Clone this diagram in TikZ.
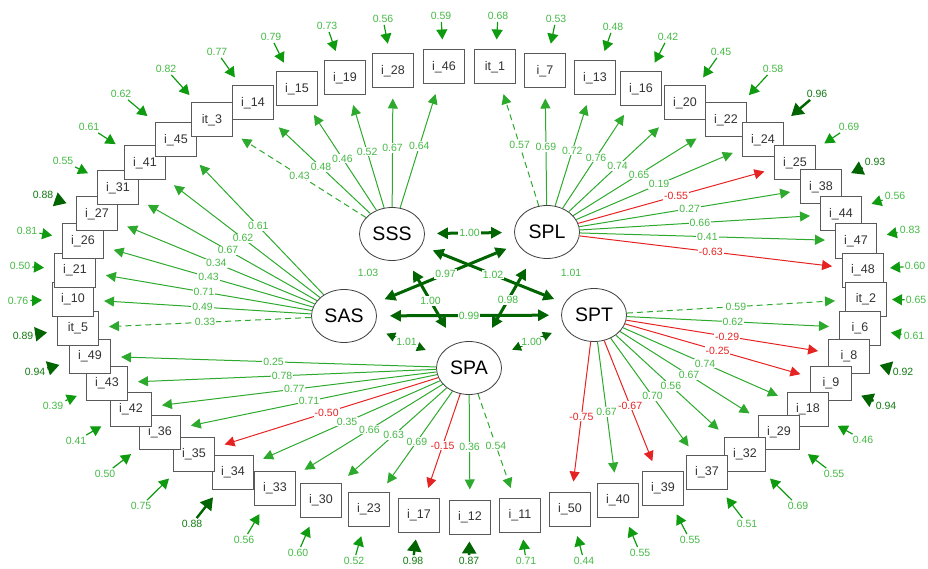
\documentclass[tikz,border=0pt]{standalone}
\usepackage{fontspec}
\setmainfont{Liberation Sans}
\usetikzlibrary{arrows.meta,shapes.geometric}
\definecolor{lgreen}{RGB}{45,170,45}
\definecolor{tgreen}{RGB}{70,185,70}
\definecolor{egreen}{RGB}{15,155,15}
\definecolor{dgreen}{RGB}{0,100,0}
\definecolor{lred}{RGB}{230,35,35}

\begin{document}
\begin{tikzpicture}[x=1pt,y=-1pt,
  item/.style={draw=black!65,line width=1pt,fill=white,minimum width=41pt,minimum height=34pt,inner sep=0pt,text=black!80,font=\fontsize{12.5}{12.5}\selectfont},
  lat/.style={draw=black!75,line width=0.8pt,ellipse,minimum width=65pt,minimum height=53pt,inner sep=0pt,font=\fontsize{19.5}{19.5}\selectfont},
  load/.style={draw=lgreen,line width=1pt,-{Triangle[length=10pt,width=10pt]},shorten >=10pt},
  nload/.style={load,draw=lred},
  fload/.style={load,dash pattern=on 6pt off 4pt},
  coef/.style={fill=white,inner sep=1pt,text=tgreen,font=\fontsize{10.5}{10.5}\selectfont},
  ncoef/.style={coef,text=lred},
  err/.style={draw=egreen,line width=1.2pt,-{Triangle[length=10pt,width=11pt]},shorten >=10pt},
  errhi/.style={draw=dgreen,line width=2.4pt,-{Triangle[length=12pt,width=14pt]},shorten >=10pt},
  elab/.style={inner sep=2pt,text=tgreen,font=\fontsize{10.5}{10.5}\selectfont},
  elabhi/.style={elab,text=dgreen!75!tgreen},
  cov/.style={draw=dgreen,line width=3pt,{Triangle[length=11pt,width=11pt]}-{Triangle[length=11pt,width=11pt]}},
  covthin/.style={draw=dgreen,line width=2pt,{Triangle[length=9pt,width=9pt]}-{Triangle[length=9pt,width=9pt]},shorten <=14pt,shorten >=15pt},
  clab/.style={coef}]
\useasboundingbox (0,0) rectangle (928,569);

% observed items, left side (bottom to top)
\node[item] (i34) at (233,472) {i\_34};
\node[item] (i35) at (194,454) {i\_35};
\node[item] (i36) at (160,432) {i\_36};
\node[item] (i42) at (131,409) {i\_42};
\node[item] (i43) at (107,383) {i\_43};
\node[item] (i49) at (90,356) {i\_49};
\node[item] (it5) at (78,328) {it\_5};
\node[item] (i10) at (73,299) {i\_10};
\node[item] (i21) at (75,270) {i\_21};
\node[item] (i26) at (83,241) {i\_26};
\node[item] (i27) at (97,214) {i\_27};
\node[item] (i31) at (118,188) {i\_31};
\node[item] (i41) at (145,163) {i\_41};
\node[item] (i45) at (176,140) {i\_45};
\node[item] (it3) at (212,120) {it\_3};
\node[item] (i14) at (253,103) {i\_14};
% top row
\node[item] (i15) at (297,89) {i\_15};
\node[item] (i19) at (345,78) {i\_19};
\node[item] (i28) at (393,71) {i\_28};
\node[item] (i46) at (444,67) {i\_46};
\node[item] (it1) at (495,67) {it\_1};
\node[item] (i7) at (545,71) {i\_7};
\node[item] (i13) at (595,78) {i\_13};
\node[item] (i16) at (641,89) {i\_16};
% right side (top to bottom)
\node[item] (i20) at (685,103) {i\_20};
\node[item] (i22) at (726,120) {i\_22};
\node[item] (i24) at (763,140) {i\_24};
\node[item] (i25) at (795,163) {i\_25};
\node[item] (i38) at (821,187) {i\_38};
\node[item] (i44) at (841,214) {i\_44};
\node[item] (i47) at (856,241) {i\_47};
\node[item] (i48) at (863,270) {i\_48};
\node[item] (it2) at (866,299) {it\_2};
\node[item] (i6) at (860,328) {i\_6};
\node[item] (i8) at (849,356) {i\_8};
\node[item] (i9) at (831,383) {i\_9};
\node[item] (i18) at (808,409) {i\_18};
\node[item] (i29) at (779,432) {i\_29};
\node[item] (i32) at (745,454) {i\_32};
\node[item] (i37) at (707,472) {i\_37};
% bottom row
\node[item] (i39) at (663,488) {i\_39};
\node[item] (i40) at (618,500) {i\_40};
\node[item] (i50) at (570,509) {i\_50};
\node[item] (i11) at (520,515) {i\_11};
\node[item] (i12) at (470,517) {i\_12};
\node[item] (i17) at (419,515) {i\_17};
\node[item] (i23) at (369,509) {i\_23};
\node[item] (i30) at (321,500) {i\_30};
\node[item] (i33) at (275,488) {i\_33};

% latent factors
\node[lat] (SSS) at (392,234) {SSS};
\node[lat] (SPL) at (547,232) {SPL};
\node[lat] (SAS) at (344,316) {SAS};
\node[lat] (SPT) at (594,315) {SPT};
\node[lat] (SPA) at (469,368) {SPA};

% SSS loadings
\draw[fload] (SSS) -- node[coef] {0.43} (it3);
\draw[load] (SSS) -- node[coef] {0.48} (i14);
\draw[load] (SSS) -- node[coef] {0.46} (i15);
\draw[load] (SSS) -- node[coef] {0.52} (i19);
\draw[load] (SSS) -- node[coef] {0.67} (i28);
\draw[load] (SSS) -- node[coef] {0.64} (i46);
% SAS loadings
\draw[load] (SAS) -- node[coef] {0.61} (i45);
\draw[load] (SAS) -- node[coef] {0.62} (i41);
\draw[load] (SAS) -- node[coef] {0.67} (i31);
\draw[load] (SAS) -- node[coef] {0.34} (i27);
\draw[load] (SAS) -- node[coef] {0.43} (i26);
\draw[load] (SAS) -- node[coef] {0.71} (i21);
\draw[load] (SAS) -- node[coef] {0.49} (i10);
\draw[fload] (SAS) -- node[coef] {0.33} (it5);
% SPA loadings
\draw[load] (SPA) -- node[coef] {0.25} (i49);
\draw[load] (SPA) -- node[coef] {0.78} (i43);
\draw[load] (SPA) -- node[coef] {0.77} (i42);
\draw[load] (SPA) -- node[coef] {0.71} (i36);
\draw[nload] (SPA) -- node[ncoef] {-0.50} (i35);
\draw[load] (SPA) -- node[coef] {0.35} (i34);
\draw[load] (SPA) -- node[coef] {0.66} (i33);
\draw[load] (SPA) -- node[coef] {0.63} (i30);
\draw[load] (SPA) -- node[coef] {0.69} (i23);
\draw[nload] (SPA) -- node[ncoef] {-0.15} (i17);
\draw[load] (SPA) -- node[coef] {0.36} (i12);
\draw[fload] (SPA) -- node[coef] {0.54} (i11);
% SPT loadings
\draw[nload] (SPT) -- node[ncoef] {-0.75} (i50);
\draw[load] (SPT) -- node[coef] {0.67} (i40);
\draw[nload] (SPT) -- node[ncoef] {-0.67} (i39);
\draw[load] (SPT) -- node[coef] {0.70} (i37);
\draw[load] (SPT) -- node[coef] {0.56} (i32);
\draw[load] (SPT) -- node[coef] {0.67} (i29);
\draw[load] (SPT) -- node[coef] {0.74} (i18);
\draw[nload] (SPT) -- node[ncoef] {-0.25} (i9);
\draw[nload] (SPT) -- node[ncoef] {-0.29} (i8);
\draw[load] (SPT) -- node[coef] {0.62} (i6);
\draw[fload] (SPT) -- node[coef] {0.59} (it2);
% SPL loadings
\draw[fload] (SPL) -- node[coef] {0.57} (it1);
\draw[load] (SPL) -- node[coef] {0.69} (i7);
\draw[load] (SPL) -- node[coef] {0.72} (i13);
\draw[load] (SPL) -- node[coef] {0.76} (i16);
\draw[load] (SPL) -- node[coef] {0.74} (i20);
\draw[load] (SPL) -- node[coef] {0.65} (i22);
\draw[load] (SPL) -- node[coef] {0.19} (i24);
\draw[nload] (SPL) -- node[ncoef] {-0.55} (i25);
\draw[load] (SPL) -- node[coef] {0.27} (i38);
\draw[load] (SPL) -- node[coef] {0.66} (i44);
\draw[load] (SPL) -- node[coef] {0.41} (i47);
\draw[nload] (SPL) -- node[ncoef] {-0.63} (i48);

% factor covariances
\draw[cov,shorten <=12pt,shorten >=12pt] (SSS) -- node[clab] {1.00} (SPL);
\draw[cov,shorten <=12pt,shorten >=11pt] (SSS) -- node[clab] {1.02} (SPT);
\draw[cov,shorten <=12pt,shorten >=12pt] (SPL) -- node[clab] {0.97} (SAS);
\draw[cov,shorten <=14pt,shorten >=18pt] (SSS) -- node[clab] {1.00} (SPA);
\draw[cov,shorten <=14pt,shorten >=18pt] (SPL) -- node[clab] {0.98} (SPA);
\draw[cov,shorten <=13pt,shorten >=12pt] (SAS) -- node[clab] {0.99} (SPT);
\draw[covthin] (SAS) -- node[clab] {1.01} (SPA);
\draw[covthin] (SPT) -- node[clab] {1.00} (SPA);
\node[clab,fill=none] (v1) at (368,273) {1.03};
\node[clab,fill=none] (v2) at (571,273) {1.01};

% residuals
\node[elab] (e14) at (217,52) {0.77};
\draw[err] (e14) -- (i14);
\node[elab] (et3) at (166,69) {0.82};
\draw[err] (et3) -- (it3);
\node[elab] (e45) at (121,94) {0.62};
\draw[err] (e45) -- (i45);
\node[elab] (e41) at (89,127) {0.61};
\draw[err] (e41) -- (i41);
\node[elab] (e31) at (63,161) {0.55};
\draw[err] (e31) -- (i31);
\node[elabhi] (e27) at (43,195) {0.88};
\draw[errhi] (e27) -- (i27);
\node[elab] (e26) at (27,231) {0.81};
\draw[err] (e26) -- (i26);
\node[elab] (e21) at (20,266) {0.50};
\draw[err] (e21) -- (i21);
\node[elab] (e10) at (18,301) {0.76};
\draw[err] (e10) -- (i10);
\node[elabhi] (et5) at (23,336) {0.89};
\draw[errhi] (et5) -- (it5);
\node[elabhi] (e49) at (35,372) {0.94};
\draw[errhi] (e49) -- (i49);
\node[elab] (e43) at (53,406) {0.39};
\draw[err] (e43) -- (i43);
\node[elab] (e42) at (76,441) {0.41};
\draw[err] (e42) -- (i42);
\node[elab] (e36) at (105,474) {0.50};
\draw[err] (e36) -- (i36);
\node[elab] (e35) at (141,506) {0.75};
\draw[err] (e35) -- (i35);
\node[elabhi] (e34) at (192,524) {0.88};
\draw[errhi] (e34) -- (i34);
\node[elab] (e33) at (244,540) {0.56};
\draw[err] (e33) -- (i33);
\node[elab] (e30) at (298,553) {0.60};
\draw[err] (e30) -- (i30);
\node[elab] (e23) at (354,561) {0.52};
\draw[err] (e23) -- (i23);
\node[elabhi] (e17) at (413,561) {0.98};
\draw[errhi,shorten >=7pt] (e17) -- (i17);
\node[elabhi] (e12) at (469,561) {0.87};
\draw[errhi,shorten >=7pt] (e12) -- (i12);
\node[elab] (e11) at (526,561) {0.71};
\draw[err,shorten >=7pt] (e11) -- (i11);
\node[elab] (e50) at (584,561) {0.44};
\draw[err] (e50) -- (i50);
\node[elab] (e40) at (640,553) {0.55};
\draw[err] (e40) -- (i40);
\node[elab] (e39) at (690,540) {0.55};
\draw[err] (e39) -- (i39);
\node[elab] (e37) at (747,524) {0.51};
\draw[err] (e37) -- (i37);
\node[elab] (e32) at (798,506) {0.69};
\draw[err] (e32) -- (i32);
\node[elab] (e29) at (834,474) {0.55};
\draw[err] (e29) -- (i29);
\node[elab] (e18) at (863,440) {0.46};
\draw[err] (e18) -- (i18);
\node[elabhi] (e9) at (886,406) {0.94};
\draw[errhi] (e9) -- (i9);
\node[elabhi] (e8) at (903,372) {0.92};
\draw[errhi] (e8) -- (i8);
\node[elab] (e6) at (914,336) {0.61};
\draw[err] (e6) -- (i6);
\node[elab,inner sep=1pt] (et2) at (916,300) {0.65};
\draw[err,shorten >=5pt] (et2) -- (it2);
\node[elab,inner sep=1pt] (e48) at (915,266) {0.60};
\draw[err,shorten >=6pt] (e48) -- (i48);
\node[elab] (e47) at (910,230) {0.83};
\draw[err] (e47) -- (i47);
\node[elab] (e44) at (895,196) {0.56};
\draw[err] (e44) -- (i44);
\node[elabhi] (e38) at (875,162) {0.93};
\draw[errhi] (e38) -- (i38);
\node[elab] (e25) at (849,127) {0.69};
\draw[err] (e25) -- (i25);
\node[elabhi] (e24) at (817,94) {0.96};
\draw[errhi] (e24) -- (i24);
\node[elab] (e22) at (773,69) {0.58};
\draw[err] (e22) -- (i22);
\node[elab] (e20) at (721,52) {0.45};
\draw[err] (e20) -- (i20);
\node[elab] (e16) at (668,37) {0.42};
\draw[err] (e16) -- (i16);
\node[elab] (e13) at (613,27) {0.48};
\draw[err] (e13) -- (i13);
\node[elab] (e7) at (556,19) {0.53};
\draw[err] (e7) -- (i7);
\node[elab] (et1) at (498,16) {0.68};
\draw[err] (et1) -- (it1);
\node[elab] (e46) at (441,16) {0.59};
\draw[err] (e46) -- (i46);
\node[elab] (e28) at (383,19) {0.56};
\draw[err] (e28) -- (i28);
\node[elab] (e19) at (327,26) {0.73};
\draw[err] (e19) -- (i19);
\node[elab] (e15) at (271,37) {0.79};
\draw[err] (e15) -- (i15);
\end{tikzpicture}
\end{document}
